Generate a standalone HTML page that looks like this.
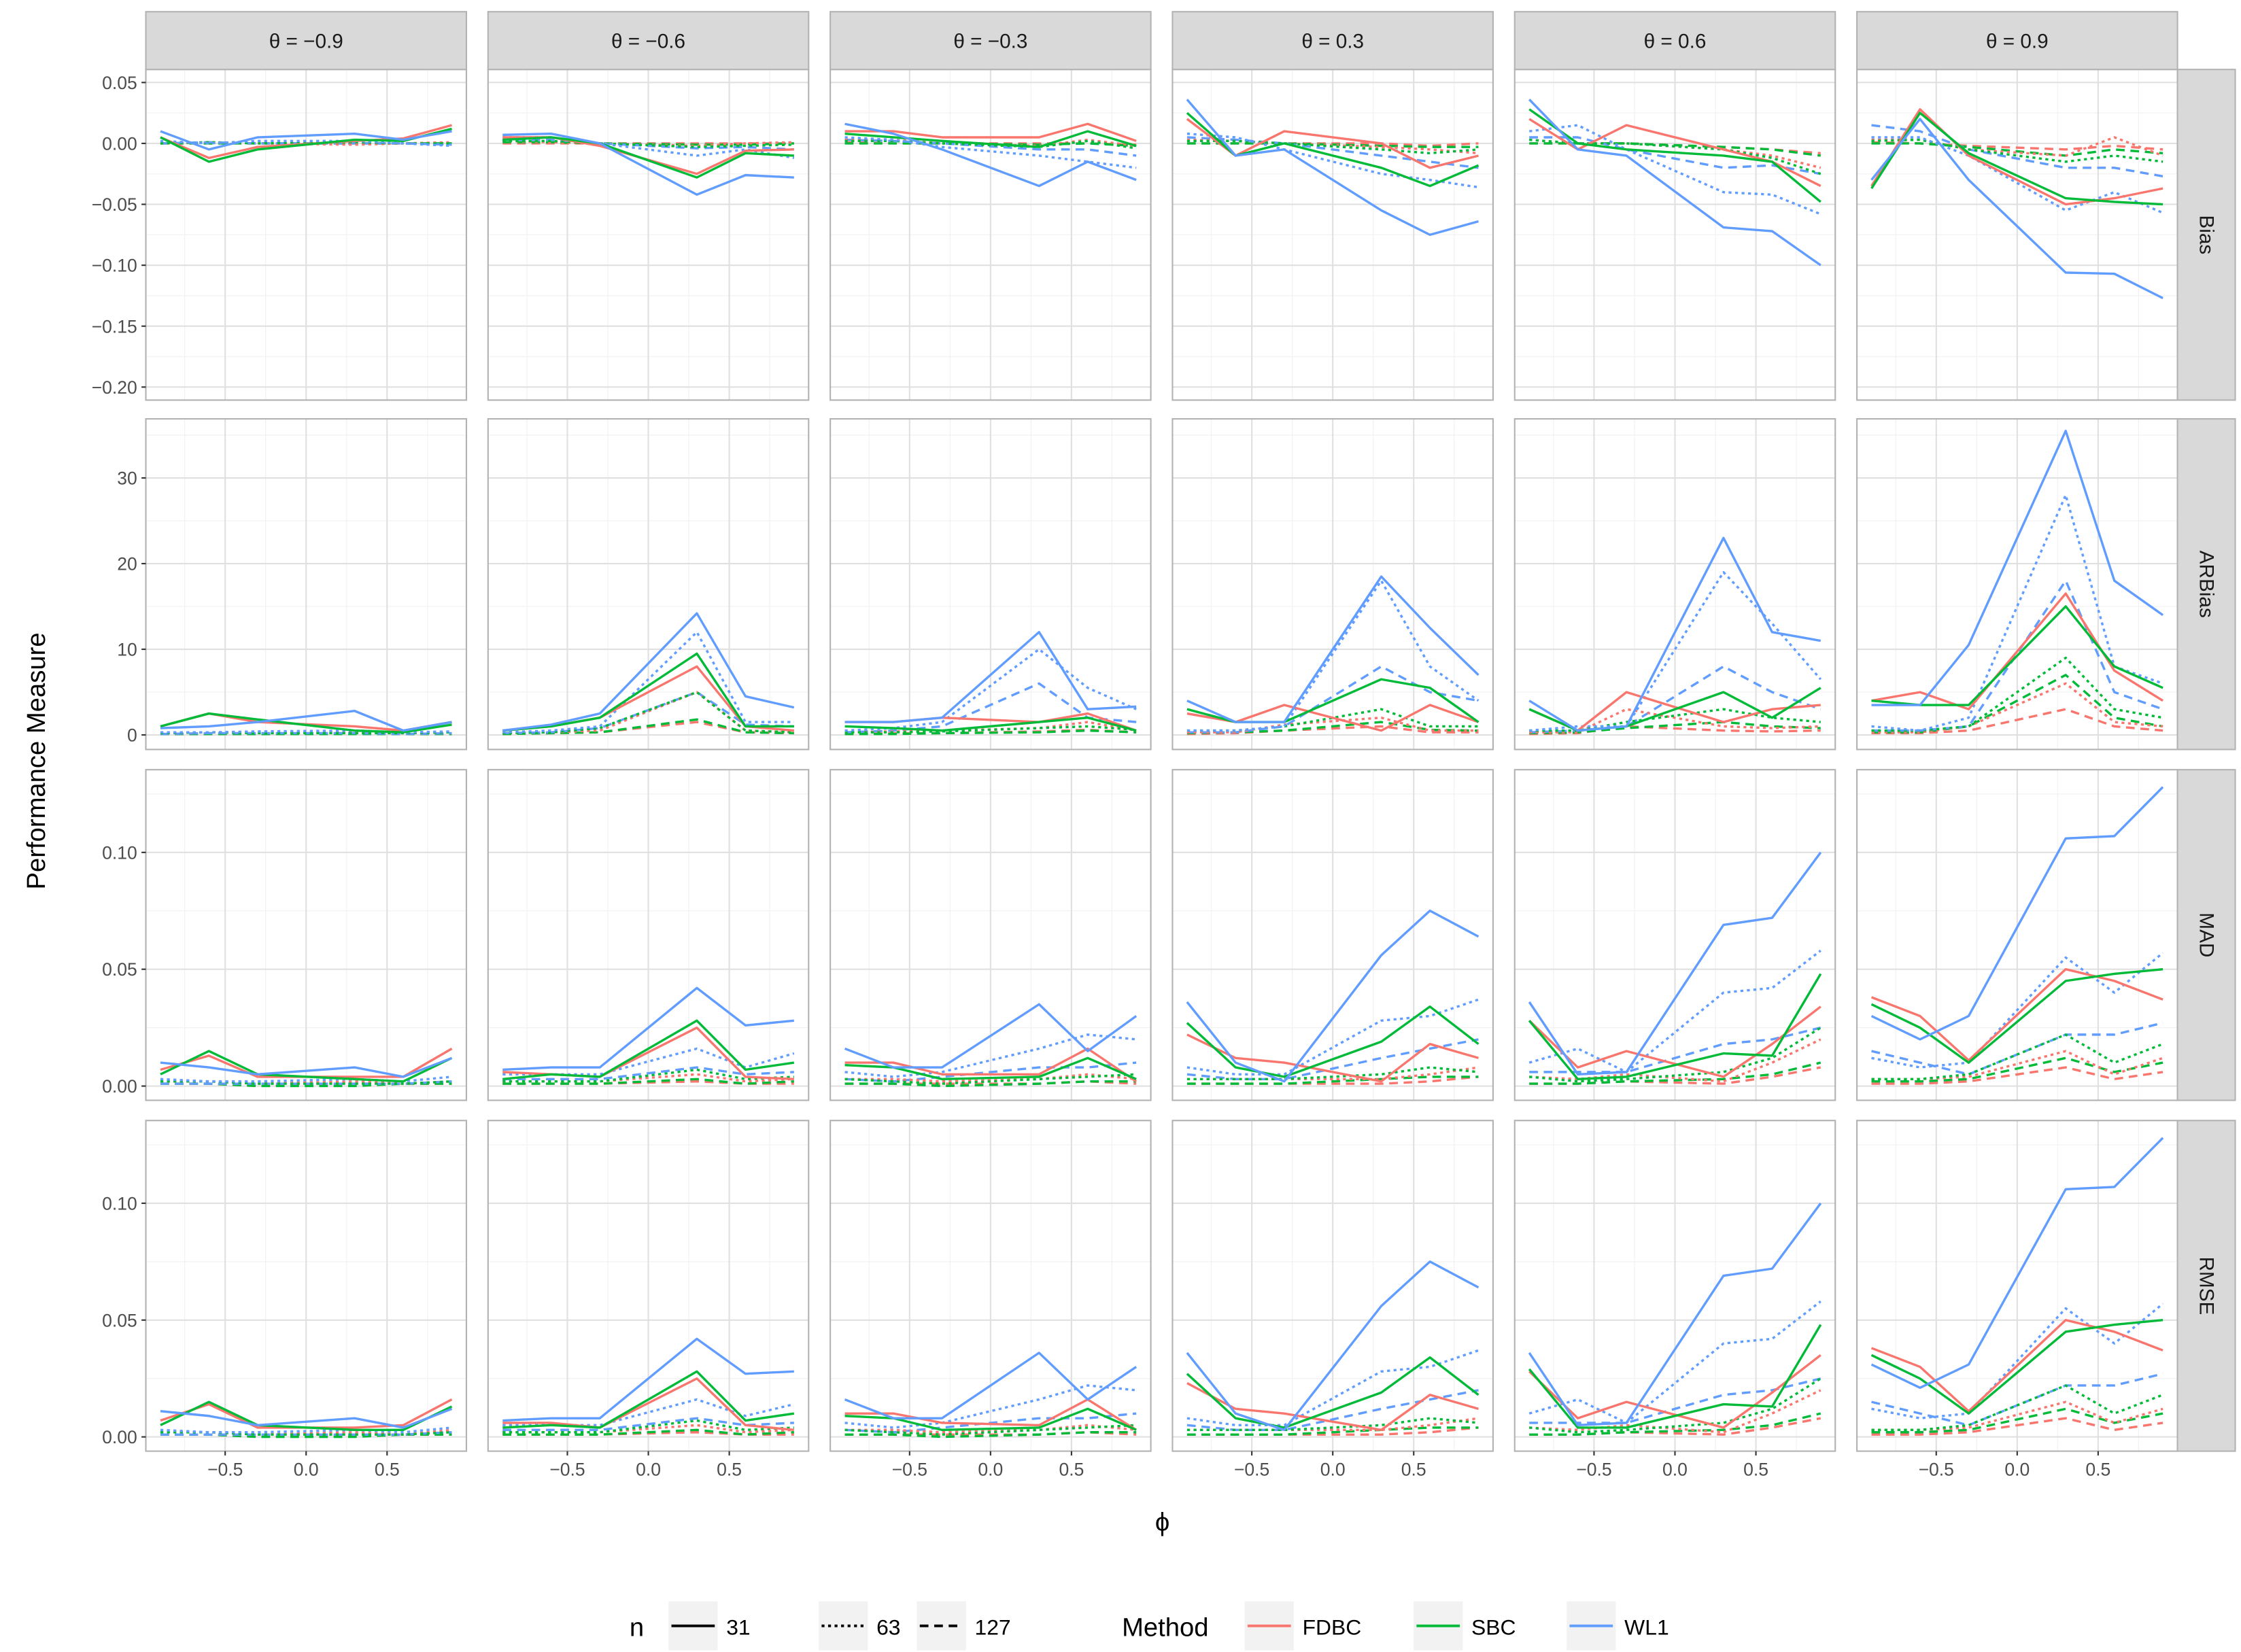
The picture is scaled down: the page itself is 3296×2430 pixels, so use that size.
<!DOCTYPE html>
<html><head><meta charset="utf-8"><style>
html,body{margin:0;padding:0;background:#fff}
svg{display:block}
text{font-family:"Liberation Sans",Arial,sans-serif}
</style></head><body>
<svg id="chart" width="3296" height="2430" viewBox="0 0 1552 1144" xmlns="http://www.w3.org/2000/svg"></svg>
<script>
const phi = [-0.9,-0.6,-0.3,0.3,0.6,0.9];
const thetaLabels = ["θ = −0.9","θ = −0.6","θ = −0.3","θ = 0.3","θ = 0.6","θ = 0.9"];
const measures = ["Bias","ARBias","MAD","RMSE"];
const methods = ["FDBC","SBC","WL1"];
const sizes = ["31","63","127"];
const xTicks = [-0.5,0,0.5];
const xTickLabels = ["−0.5","0.0","0.5"];
const biasTicks = [0.05,0,-0.05,-0.10,-0.15,-0.20];
const biasTickLabels = ["0.05","0.00","−0.05","−0.10","−0.15","−0.20"];
const arTicks = [0,10,20,30];
const arTickLabels = ["0","10","20","30"];
const madTicks = [0,0.05,0.10];
const madTickLabels = ["0.00","0.05","0.10"];

// bias[col][method][n] = values over phi
const bias = [
[[[.005,-.012,-.003,.002,.004,.015],[0,.001,0,-.001,0,.001],[0,0,0,0,0,0]],
 [[.005,-.015,-.005,.003,.002,.012],[0,.001,0,.001,0,0],[0,0,0,0,0,0]],
 [[.01,-.005,.005,.008,.003,.01],[.002,0,.002,.002,0,-.002],[0,.001,0,0,0,-.001]]],
[[[.005,.005,-.002,-.025,-.006,-.005],[.002,.001,0,-.002,0,.001],[0,0,0,0,0,0]],
 [[.003,.005,0,-.028,-.008,-.01],[.002,.002,0,-.003,-.002,-.001],[.001,.001,0,-.001,-.001,0]],
 [[.007,.008,0,-.042,-.026,-.028],[.005,.005,0,-.01,-.005,-.012],[.003,.003,0,-.004,-.003,-.005]]],
[[[.01,.01,.005,.005,.016,.002],[.003,.003,0,-.002,.003,-.002],[.001,0,0,0,0,-.001]],
 [[.008,.005,.002,-.003,.01,-.002],[.002,.002,0,-.003,.002,-.004],[0,0,0,-.001,0,-.002]],
 [[.016,.008,-.005,-.035,-.015,-.03],[.005,.003,-.003,-.01,-.015,-.02],[.003,.002,0,-.005,-.005,-.01]]],
[[[.02,-.01,.01,0,-.02,-.01],[.003,.002,0,-.003,-.005,-.008],[0,0,0,0,-.002,0]],
 [[.025,-.01,0,-.02,-.035,-.018],[.002,.002,0,-.005,-.008,-.005],[0,0,0,-.002,-.003,-.003]],
 [[.036,-.01,-.005,-.055,-.075,-.064],[.008,.005,-.005,-.025,-.03,-.036],[.005,.003,0,-.01,-.015,-.02]]],
[[[.02,-.005,.015,-.005,-.015,-.035],[.003,0,0,-.005,-.01,-.02],[0,0,0,-.003,-.005,-.008]],
 [[.028,0,-.005,-.01,-.015,-.048],[.003,0,0,-.005,-.012,-.025],[0,0,0,-.003,-.005,-.01]],
 [[.036,-.005,-.01,-.069,-.072,-.1],[.01,.015,-.005,-.04,-.042,-.058],[.005,.005,-.005,-.02,-.018,-.025]]],
[[[-.035,.028,-.01,-.05,-.045,-.037],[.003,.003,-.005,-.01,.005,-.01],[.001,0,-.002,-.005,-.002,-.005]],
 [[-.037,.025,-.008,-.045,-.048,-.05],[.002,.003,-.005,-.015,-.01,-.015],[0,0,-.003,-.01,-.005,-.008]],
 [[-.03,.02,-.03,-.106,-.107,-.127],[.005,.005,-.01,-.055,-.04,-.057],[.015,.01,-.005,-.02,-.02,-.027]]]
];
const arbias = [
[[[1,2.5,1.5,1,0.5,1.5],[0.2,0.3,0.3,0.3,0.2,0.3],[0.1,0.1,0.1,0.2,0.1,0.1]],
 [[1,2.5,1.8,0.5,0.3,1.2],[0.2,0.3,0.2,0.2,0.2,0.3],[0.1,0.1,0.1,0.1,0.1,0.1]],
 [[0.8,1,1.5,2.8,0.5,1.5],[0.3,0.3,0.4,0.5,0.3,0.4],[0.1,0.2,0.2,0.2,0.1,0.2]]],
[[[0.5,1,2,8,1,0.5],[0.2,0.3,0.5,5,0.5,0.3],[0.1,0.2,0.3,1.5,0.3,0.2]],
 [[0.5,1,2,9.5,1,1],[0.2,0.3,0.8,5,0.5,0.3],[0.1,0.2,0.3,1.8,0.3,0.2]],
 [[0.5,1.2,2.5,14.2,4.5,3.2],[0.3,0.5,1,12,1.5,1.5],[0.2,0.3,0.8,5,1.2,1]]],
[[[1.5,1.5,2,1.5,2.5,0.5],[0.3,0.4,0.5,0.8,1.5,0.5],[0.1,0.2,0.2,0.4,0.6,0.3]],
 [[1,0.8,0.5,1.5,2,0.5],[0.3,0.3,0.4,0.8,1,0.6],[0.1,0.1,0.2,0.3,0.5,0.3]],
 [[1.5,1.5,2,12,3,3.3],[0.5,0.8,1.5,10,5.5,3],[0.3,0.5,1,6,2,1.5]]],
[[[2.5,1.5,3.5,0.5,3.5,1.5],[0.3,0.3,1.2,2,0.5,0.5],[0.1,0.2,0.5,1,0.3,0.3]],
 [[3,1.5,1.5,6.5,5.5,1.5],[0.5,0.5,1,3,1,1],[0.2,0.3,0.5,1.5,0.6,0.5]],
 [[4,1.5,1.5,18.5,12.5,7],[0.5,0.5,1,18,8,4],[0.3,0.3,1,8,5,4]]],
[[[3,0.5,5,1.5,3,3.5],[0.3,0.3,3,1,0.8,1],[0.1,0.2,1,0.5,0.4,0.5]],
 [[3,0.5,1,5,2,5.5],[0.5,0.5,1.5,3,2,1.5],[0.2,0.3,0.8,1.5,1,0.8]],
 [[4,0.5,1,23,12,11],[0.5,1,1,19,13,6.5],[0.3,0.5,1,8,5,3]]],
[[[4,5,3,16.5,7.5,4],[0.3,0.3,1,6,1.5,1],[0.2,0.2,0.5,3,1,0.5]],
 [[4,3.5,3.5,15,8,5.5],[0.5,0.5,1,9,3,2],[0.3,0.3,1,7,2,1]],
 [[3.5,3.5,10.5,35.5,18,14],[1,0.5,2,28,8,6],[0.5,0.5,1,18,5,3]]]
];
const mad = [
[[[.007,.013,.004,.004,.004,.016],[.002,.002,.001,.002,.001,.002],[.001,.001,0,.001,.001,.001]],
 [[.005,.015,.005,.003,.002,.012],[.002,.002,.001,.001,.001,.002],[.001,.001,0,0,.001,.001]],
 [[.01,.008,.005,.008,.004,.012],[.003,.002,.002,.003,.002,.004],[.001,.001,.001,.001,.001,.002]]],
[[[.006,.005,.004,.025,.004,.003],[.002,.002,.002,.005,.002,.003],[.001,.001,.001,.002,.001,.001]],
 [[.003,.005,.004,.028,.007,.01],[.002,.002,.002,.007,.003,.004],[.001,.001,.001,.003,.001,.002]],
 [[.007,.008,.008,.042,.026,.028],[.005,.005,.005,.016,.008,.014],[.003,.003,.003,.008,.005,.006]]],
[[[.01,.01,.005,.005,.016,.002],[.003,.003,.002,.003,.005,.003],[.001,.001,.001,.001,.002,.001]],
 [[.009,.008,.003,.004,.012,.003],[.003,.002,.001,.003,.004,.005],[.001,.001,0,.001,.002,.002]],
 [[.016,.008,.008,.035,.015,.03],[.006,.004,.006,.016,.022,.02],[.003,.002,.004,.008,.008,.01]]],
[[[.022,.012,.01,.002,.018,.012],[.003,.003,.003,.003,.005,.008],[.001,.001,.001,.001,.002,.004]],
 [[.027,.008,.004,.019,.034,.018],[.003,.003,.003,.005,.008,.006],[.001,.001,.001,.003,.004,.004]],
 [[.036,.01,.002,.056,.075,.064],[.008,.005,.005,.028,.03,.037],[.005,.003,.003,.012,.016,.02]]],
[[[.028,.008,.015,.004,.018,.034],[.004,.003,.005,.002,.01,.02],[.001,.001,.002,.001,.004,.008]],
 [[.028,.003,.004,.014,.013,.048],[.004,.002,.003,.006,.012,.025],[.001,.001,.002,.003,.005,.01]],
 [[.036,.005,.006,.069,.072,.1],[.01,.016,.006,.04,.042,.058],[.006,.006,.006,.018,.02,.025]]],
[[[.038,.03,.011,.05,.045,.037],[.003,.003,.004,.015,.005,.012],[.001,.001,.002,.008,.003,.006]],
 [[.035,.025,.01,.045,.048,.05],[.003,.003,.005,.022,.01,.018],[.002,.002,.003,.012,.006,.01]],
 [[.03,.02,.03,.106,.107,.128],[.012,.008,.01,.055,.04,.057],[.015,.01,.005,.022,.022,.027]]]
];
const rmse = [
[[[.007,.014,.004,.004,.005,.016],[.002,.002,.001,.002,.001,.003],[.001,.001,0,.001,.001,.001]],
 [[.005,.015,.005,.003,.003,.013],[.002,.002,.001,.001,.001,.002],[.001,.001,0,0,.001,.001]],
 [[.011,.009,.005,.008,.004,.012],[.003,.002,.002,.003,.002,.004],[.001,.001,.001,.001,.001,.002]]],
[[[.006,.006,.004,.025,.005,.003],[.002,.002,.002,.005,.002,.003],[.001,.001,.001,.002,.001,.001]],
 [[.004,.005,.004,.028,.007,.01],[.002,.002,.002,.007,.003,.004],[.001,.001,.001,.003,.001,.002]],
 [[.007,.008,.008,.042,.027,.028],[.005,.005,.005,.016,.009,.014],[.003,.003,.003,.008,.005,.006]]],
[[[.01,.01,.006,.005,.016,.003],[.003,.003,.002,.003,.005,.003],[.001,.001,.001,.001,.002,.001]],
 [[.009,.008,.003,.004,.012,.003],[.003,.002,.001,.003,.004,.005],[.001,.001,0,.001,.002,.002]],
 [[.016,.008,.008,.036,.016,.03],[.006,.004,.006,.016,.022,.02],[.003,.002,.004,.008,.008,.01]]],
[[[.023,.012,.01,.003,.018,.012],[.003,.003,.003,.003,.005,.008],[.001,.001,.001,.001,.002,.004]],
 [[.027,.008,.004,.019,.034,.018],[.003,.003,.003,.005,.008,.006],[.001,.001,.001,.003,.004,.004]],
 [[.036,.01,.003,.056,.075,.064],[.008,.005,.005,.028,.03,.037],[.005,.003,.003,.012,.016,.02]]],
[[[.028,.008,.015,.004,.019,.035],[.004,.003,.005,.002,.01,.02],[.001,.001,.002,.001,.004,.008]],
 [[.029,.004,.004,.014,.013,.048],[.004,.002,.003,.006,.012,.025],[.001,.001,.002,.003,.005,.01]],
 [[.036,.005,.006,.069,.072,.1],[.01,.016,.006,.04,.042,.058],[.006,.006,.006,.018,.02,.025]]],
[[[.038,.03,.011,.05,.045,.037],[.003,.003,.004,.015,.006,.012],[.001,.001,.002,.008,.003,.006]],
 [[.035,.025,.01,.045,.048,.05],[.003,.003,.005,.022,.01,.018],[.002,.002,.003,.012,.006,.01]],
 [[.031,.021,.031,.106,.107,.128],[.012,.008,.01,.055,.04,.057],[.015,.01,.005,.022,.022,.027]]]
];

const NS="http://www.w3.org/2000/svg";
const svg=document.getElementById('chart');
function mk(tag,attrs,parent){const e=document.createElementNS(NS,tag);for(const k in attrs)e.setAttribute(k,attrs[k]);(parent||svg).appendChild(e);return e;}
const colors=["#F8766D","#00BA38","#619CFF"];
const dashes=["none","2,2.5","6,4"];
const colX=[101,338,575,812,1049,1286], panelW=222;
const rowY=[48,290,533,776], panelH=229;
const rowDomains=[[-0.2107,0.0607],[-1.7,36.9],[-0.0061,0.1354],[-0.0061,0.1354]];
const rowData=[bias,arbias,mad,rmse];
const rowTicks=[biasTicks,arTicks,madTicks,madTicks];
const rowTickLabels=[biasTickLabels,arTickLabels,madTickLabels,madTickLabels];
const rowMinor=[[0.025,-0.025,-0.075,-0.125,-0.175],[5,15,25,35],[0.025,0.075,0.125],[0.025,0.075,0.125]];
function xs(c,v){return colX[c]+(v+0.99)/1.98*panelW;}
function ys(r,v){const d=rowDomains[r];return rowY[r]+panelH-(v-d[0])/(d[1]-d[0])*panelH;}

for(let r=0;r<4;r++){
  for(let c=0;c<6;c++){
    const g=mk('g',{});
    
    
    mk('rect',{x:colX[c],y:rowY[r],width:panelW,height:panelH,fill:'#fff'},g);
    [-0.75,-0.25,0.25,0.75].forEach(v=>mk('line',{x1:xs(c,v),x2:xs(c,v),y1:rowY[r],y2:rowY[r]+panelH,stroke:'#f2f2f2','stroke-width':0.6},g));
    rowMinor[r].forEach(v=>mk('line',{x1:colX[c],x2:colX[c]+panelW,y1:ys(r,v),y2:ys(r,v),stroke:'#f2f2f2','stroke-width':0.6},g));
    xTicks.forEach(v=>mk('line',{x1:xs(c,v),x2:xs(c,v),y1:rowY[r],y2:rowY[r]+panelH,stroke:'#e0e0e0','stroke-width':1},g));
    rowTicks[r].forEach(v=>mk('line',{x1:colX[c],x2:colX[c]+panelW,y1:ys(r,v),y2:ys(r,v),stroke:'#e0e0e0','stroke-width':1},g));
    const data=rowData[r][c];
    for(let n=2;n>=0;n--){
      for(let m=0;m<3;m++){
        const vals=data[m][n];
        const pts=vals.map((v,i)=>xs(c,phi[i]).toFixed(1)+','+ys(r,v).toFixed(1)).join(' ');
        const pl=mk('polyline',{points:pts,fill:'none',stroke:colors[m],'stroke-width':1.6,'stroke-dasharray':dashes[n],'stroke-linejoin':'round'},g);
        
        
      }
    }
    mk('rect',{x:colX[c],y:rowY[r],width:panelW,height:panelH,fill:'none',stroke:'#b3b3b3','stroke-width':1},g);
    if(c===0){
      rowTicks[r].forEach((v,i)=>{
        mk('line',{x1:colX[c]-3,x2:colX[c],y1:ys(r,v),y2:ys(r,v),stroke:'#333','stroke-width':1},g);
        const t=mk('text',{x:colX[c]-6,y:ys(r,v)+4.5,'text-anchor':'end','font-size':12.5,fill:'#4d4d4d'},g);
        t.textContent=rowTickLabels[r][i];
        
        
      });
    }
    if(r===3){
      xTicks.forEach((v,i)=>{
        mk('line',{x1:xs(c,v),x2:xs(c,v),y1:rowY[r]+panelH,y2:rowY[r]+panelH+3,stroke:'#333','stroke-width':1},g);
        const t=mk('text',{x:xs(c,v),y:rowY[r]+panelH+17,'text-anchor':'middle','font-size':12.5,fill:'#4d4d4d'},g);
        t.textContent=xTickLabels[i];
        
        
      });
    }
  }
  const sr=mk('rect',{x:1508,y:rowY[r],width:40,height:panelH,fill:'#d9d9d9',stroke:'#b3b3b3','stroke-width':1});
  
  
  const cx=1528, cy=rowY[r]+panelH/2;
  const st=mk('text',{x:cx,y:cy,'text-anchor':'middle','dominant-baseline':'central','font-size':14,fill:'#1a1a1a',transform:'rotate(90 '+cx+' '+cy+')'});
  st.textContent=measures[r];
  
  
}
for(let c=0;c<6;c++){
  const sr=mk('rect',{x:colX[c],y:8,width:panelW,height:40,fill:'#d9d9d9',stroke:'#b3b3b3','stroke-width':1});
  
  
  const t=mk('text',{x:colX[c]+panelW/2,y:33,'text-anchor':'middle','font-size':14,fill:'#1a1a1a'});
  t.textContent=thetaLabels[c];
  
  
}
const yt=mk('text',{x:31,y:527,'text-anchor':'middle','font-size':18,fill:'#000',transform:'rotate(-90 31 527)'});
yt.textContent='Performance Measure';


const xt=mk('text',{x:805,y:1060,'text-anchor':'middle','font-size':18,fill:'#000'});
xt.textContent='ϕ';



// legend
const lg=mk('g',{});


const ln=mk('text',{x:441,y:1133,'text-anchor':'middle','font-size':18,fill:'#000'},lg);
ln.textContent='n';


const nKeyX=[463,567,635];
sizes.forEach((s,i)=>{
  mk('rect',{x:nKeyX[i],y:1109,width:34,height:34,fill:'#f2f2f2'},lg);
  const l=mk('line',{x1:nKeyX[i]+2,x2:nKeyX[i]+32,y1:1126,y2:1126,stroke:'#000','stroke-width':1.8,'stroke-dasharray':dashes[i]},lg);
  
  
  const t=mk('text',{x:nKeyX[i]+40,y:1132,'font-size':15,fill:'#000'},lg);
  t.textContent=s;
  
  
});
const lm=mk('text',{x:807,y:1133,'text-anchor':'middle','font-size':18,fill:'#000'},lg);
lm.textContent='Method';


const mKeyX=[862,979,1085];
methods.forEach((s,i)=>{
  mk('rect',{x:mKeyX[i],y:1109,width:34,height:34,fill:'#f2f2f2'},lg);
  const l=mk('line',{x1:mKeyX[i]+2,x2:mKeyX[i]+32,y1:1126,y2:1126,stroke:colors[i],'stroke-width':1.8},lg);
  
  
  const t=mk('text',{x:mKeyX[i]+40,y:1132,'font-size':15,fill:'#000'},lg);
  t.textContent=s;
  
  
});
</script>
</body></html>
